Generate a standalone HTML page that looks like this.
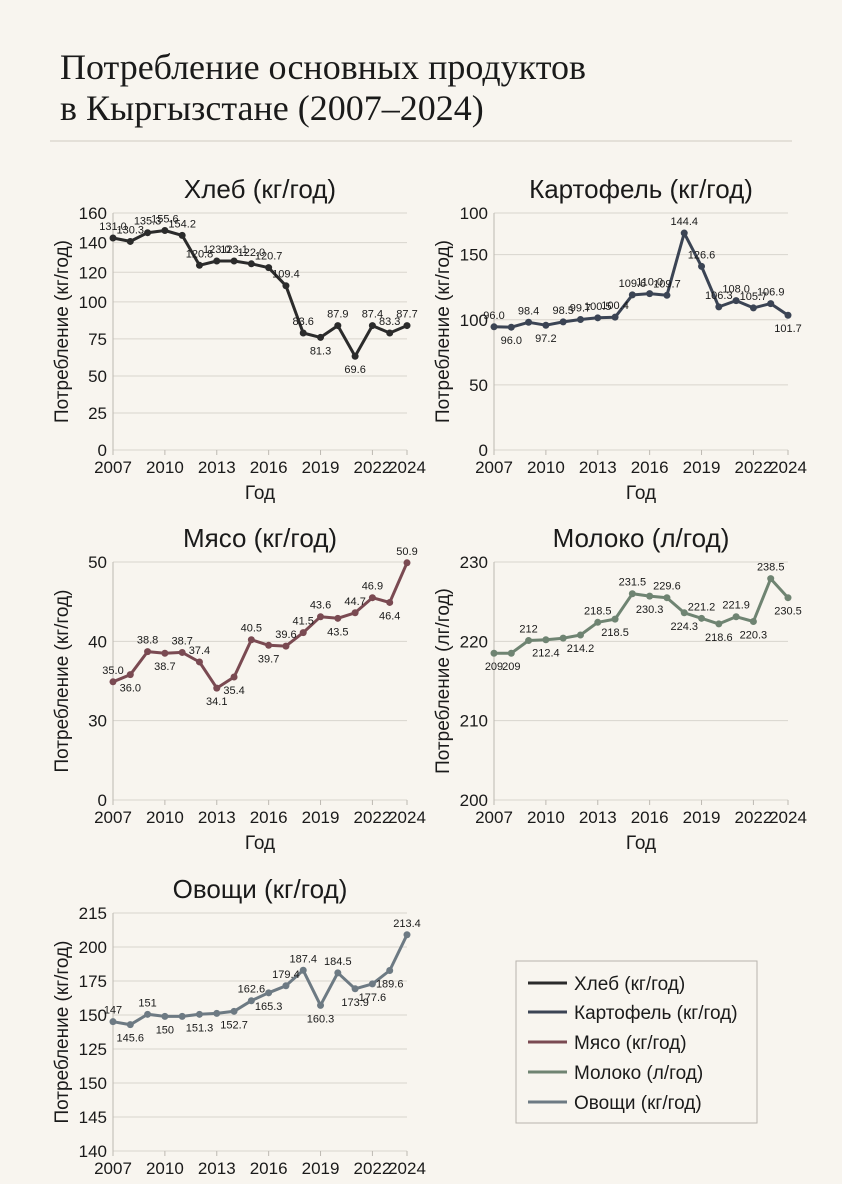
<!DOCTYPE html>
<html><head><meta charset="utf-8"><style>
body{margin:0;background:#f8f5ef;}
svg text{font-family:"Liberation Sans Narrow","Liberation Sans",sans-serif;}
</style></head><body>
<svg width="842" height="1179" viewBox="0 0 842 1179" xmlns="http://www.w3.org/2000/svg">
<rect width="842" height="1179" fill="#f8f5ef"/>
<text x="60" y="79" font-size="36" fill="#1a1a1a" style="font-family:'Liberation Serif',serif">Потребление основных продуктов</text>
<text x="60" y="120" font-size="36" fill="#1a1a1a" style="font-family:'Liberation Serif',serif">в Кыргызстане (2007–2024)</text>
<line x1="50" y1="141" x2="792" y2="141" stroke="#cfcac2" stroke-width="1"/>
<g id="charts"></g>
<g>
<rect x="516" y="961" width="241" height="162" fill="#f8f5ef" stroke="#b8b4ad"/>
<line x1="528" y1="983" x2="567" y2="983" stroke="#2b2b2b" stroke-width="3"/>
<text x="574" y="990" font-size="19" fill="#1a1a1a">Хлеб (кг/год)</text>
<line x1="528" y1="1012" x2="567" y2="1012" stroke="#3b4454" stroke-width="3"/>
<text x="574" y="1019" font-size="19" fill="#1a1a1a">Картофель (кг/год)</text>
<line x1="528" y1="1042" x2="567" y2="1042" stroke="#7a4a52" stroke-width="3"/>
<text x="574" y="1049" font-size="19" fill="#1a1a1a">Мясо (кг/год)</text>
<line x1="528" y1="1072" x2="567" y2="1072" stroke="#6f8472" stroke-width="3"/>
<text x="574" y="1079" font-size="19" fill="#1a1a1a">Молоко (л/год)</text>
<line x1="528" y1="1102" x2="567" y2="1102" stroke="#6d7a83" stroke-width="3"/>
<text x="574" y="1109" font-size="19" fill="#1a1a1a">Овощи (кг/год)</text>
</g>
</svg>
<script>
const years=[2007,2008,2009,2010,2011,2012,2013,2014,2015,2016,2017,2018,2019,2020,2021,2022,2023,2024];
const xTickYears=[2007,2010,2013,2016,2019,2022,2024];

const breadTicks=[0,25,50,75,100,120,140,160];
const breadTickLabels=["0","25","50","75","100","120","140","160"];
const breadValues=[143.1,140.8,146.7,148.2,144.9,124.7,127.6,127.6,125.7,123.1,110.9,79,76,84,63.3,84,79,84];
const breadLabels=["131.0","130.3","135.3","155.6","154.2","120.8","123.0","123.1","122.0","120.7","109.4","83.6","81.3","87.9","69.6","87.4","83.3","87.7"];
const breadLabelSide=[1,1,1,1,1,1,1,1,1,1,1,1,-1,1,-1,1,1,1];

const potatoTicks=[0,50,100,150,182];
const potatoTickLabels=["0","50","100","150","100"];
const potatoValues=[94.6,94.3,98.1,95.8,98.4,100.2,101.5,102,119.1,120.1,118.8,166.6,141,109.9,114.7,109.1,112.4,103.5];
const potatoLabels=["96.0","96.0","98.4","97.2","98.5","99.7","100.5","100.4","109.6","110.0","109.7","144.4","126.6","106.3","108.0","105.7","106.9","101.7"];
const potatoLabelSide=[1,-1,1,-1,1,1,1,1,1,1,1,1,1,1,1,1,1,-1];

const meatTicks=[20,30,40,50];
const meatTickLabels=["0","30","40","50"];
const meatValues=[34.9,35.8,38.7,38.5,38.6,37.4,34.1,35.5,40.2,39.5,39.4,41.1,43.1,42.9,43.6,45.5,44.9,49.9];
const meatLabels=["35.0","36.0","38.8","38.7","38.7","37.4","34.1","35.4","40.5","39.7","39.6","41.5","43.6","43.5","44.7","46.9","46.4","50.9"];
const meatLabelSide=[1,-1,1,-1,1,1,-1,-1,1,-1,1,1,1,-1,1,1,-1,1];

const milkTicks=[200,210,220,230];
const milkTickLabels=["200","210","220","230"];
const milkValues=[218.5,218.5,220.1,220.2,220.4,220.8,222.4,222.8,226.0,225.7,225.5,223.6,222.9,222.2,223.1,222.5,227.9,225.5];
const milkLabels=["209","209","212","212.4","","214.2","218.5","218.5","231.5","230.3","229.6","224.3","221.2","218.6","221.9","220.3","238.5","230.5"];
const milkLabelSide=[-1,-1,1,-1,1,-1,1,-1,1,-1,1,-1,1,-1,1,-1,1,-1];

const vegTicks=[50,75,100,125,150,175,200,225];
const vegTickLabels=["140","145","150","125","150","175","200","215"];
const vegValues=[145.1,142.9,150.5,149,149,150.5,151.2,152.7,160.5,166.3,171.5,182.9,157.1,181,169.3,172.9,182.7,209];
const vegLabels=["147","145.6","151","150","","151.3","","152.7","162.6","165.3","179.4","187.4","160.3","184.5","173.9","177.6","189.6","213.4"];
const vegLabelSide=[1,-1,1,-1,1,-1,1,-1,1,-1,1,1,-1,1,-1,-1,-1,1];

const NS="http://www.w3.org/2000/svg";
const root=document.getElementById('charts');
function mk(tag,attrs,parent){const e=document.createElementNS(NS,tag);for(const k in attrs)e.setAttribute(k,attrs[k]);parent.appendChild(e);return e;}

function drawChart(key,title,yTitle,showX,x0,x1,yTop,yBot,ticks,tickLabels,values,labels,sides,color){
  const g=mk('g',{},root);
  
  
  const xs=y=>x0+(y-years[0])/(years[years.length-1]-years[0])*(x1-x0);
  const lo=ticks[0],hi=ticks[ticks.length-1];
  const ys=v=>yBot-(v-lo)/(hi-lo)*(yBot-yTop);
  const t=mk('text',{x:(x0+x1)/2,y:yTop-15,'font-size':26,'text-anchor':'middle',fill:'#1a1a1a'},g);
  t.textContent=title;
  
  
  ticks.forEach((tv,i)=>{
    const yy=ys(tv);
    const gl=mk('line',{x1:x0,x2:x1,y1:yy,y2:yy,stroke:'#d9d5ce','stroke-width':1},g);
    
    
    const tl=mk('text',{x:x0-6,y:yy+6,'font-size':17,'text-anchor':'end',fill:'#1a1a1a'},g);
    tl.textContent=tickLabels[i];
    
    
  });
  const ax=mk('line',{x1:x0,x2:x0,y1:yTop,y2:yBot,stroke:'#bdb9b2','stroke-width':1},g);
  
  
  xTickYears.forEach(yr=>{
    const xx=xs(yr);
    const tk=mk('line',{x1:xx,x2:xx,y1:yBot,y2:yBot+5,stroke:'#bdb9b2'},g);
    
    
    const tl=mk('text',{x:xx,y:yBot+23,'font-size':17,'text-anchor':'middle',fill:'#1a1a1a'},g);
    tl.textContent=String(yr);
    
    
  });
  const yt=mk('text',{x:0,y:0,'font-size':19,'text-anchor':'middle',fill:'#1a1a1a',transform:`translate(${x0-45},${(yTop+yBot)/2}) rotate(-90)`},g);
  yt.textContent=yTitle;
  
  
  if(showX){
    const xt=mk('text',{x:(x0+x1)/2,y:yBot+49,'font-size':19,'text-anchor':'middle',fill:'#1a1a1a'},g);
    xt.textContent='Год';
    
    
  }
  const pts=values.map((v,i)=>xs(years[i]).toFixed(1)+','+ys(v).toFixed(1)).join(' ');
  const pl=mk('polyline',{points:pts,fill:'none',stroke:color,'stroke-width':3,'stroke-linejoin':'round'},g);
  
  
  values.forEach((v,i)=>{
    const c=mk('circle',{cx:xs(years[i]),cy:ys(v),r:3.5,fill:color},g);
    
    
    if(labels[i]){
      const lt=mk('text',{x:xs(years[i]),y:ys(v)+(sides[i]>0?-8:17),'font-size':11,'text-anchor':'middle',fill:'#1a1a1a'},g);
      lt.textContent=labels[i];
      
      
    }
  });
}
drawChart('bread','Хлеб (кг/год)','Потребление (кг/год)',true,113,407,213,450,breadTicks,breadTickLabels,breadValues,breadLabels,breadLabelSide,'#2b2b2b');
drawChart('potato','Картофель (кг/год)','Потребление (кг/год)',true,494,788,213,450,potatoTicks,potatoTickLabels,potatoValues,potatoLabels,potatoLabelSide,'#3b4454');
drawChart('meat','Мясо (кг/год)','Потребление (кг/год)',true,113,407,562,800,meatTicks,meatTickLabels,meatValues,meatLabels,meatLabelSide,'#7a4a52');
drawChart('milk','Молоко (л/год)','Потребление (лг/год)',true,494,788,562,800,milkTicks,milkTickLabels,milkValues,milkLabels,milkLabelSide,'#6f8472');
drawChart('vegetables','Овощи (кг/год)','Потребление (кг/год)',false,113,407,913,1151,vegTicks,vegTickLabels,vegValues,vegLabels,vegLabelSide,'#6d7a83');
</script>
</body></html>
